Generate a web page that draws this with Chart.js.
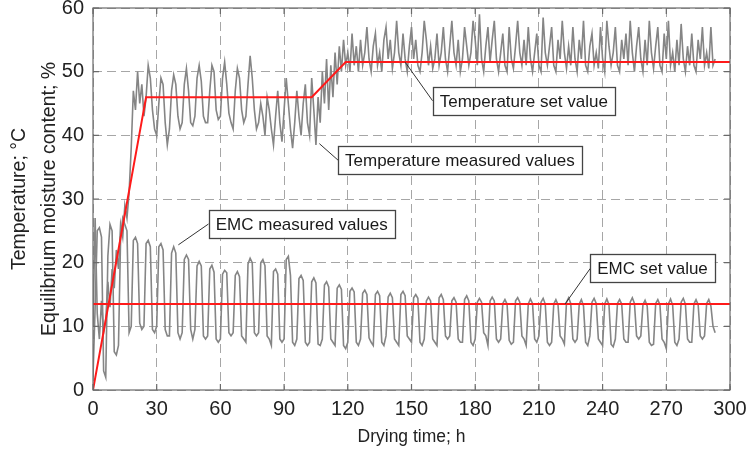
<!DOCTYPE html>
<html>
<head>
<meta charset="utf-8">
<script src="https://cdn.jsdelivr.net/npm/chart.js@4/dist/chart.umd.min.js"></script>
<style>
  html, body { margin: 0; padding: 0; background: #fff; }
  #c { display: block; }
</style>
</head>
<body>
<canvas id="c" width="748" height="456"></canvas>
<script>
// drying time, hourly readings
var hours = Array.from({length: 294}, function (_, i) { return i; });

// temperature measured values, one row = 6 h
var tempMeasured = [
  10, 27, 12, 8, 14, 9,
  11, 17, 13, 19, 16, 22,
  19, 26, 24, 29, 27, 31,
  38, 47, 44, 50, 45, 48,
  43, 46, 51, 49, 44, 41,
  40, 45, 49, 48, 42, 38.5,
  41, 47, 49.5, 48, 43, 41,
  42, 48, 50.5, 47, 42, 41.5,
  43, 49, 51, 48.5, 43, 42,
  42, 47, 51, 50, 44, 42.5,
  43, 49, 51.5, 48, 43.5, 42,
  41, 47, 50.5, 49, 44, 42,
  43, 48, 52.5, 49, 44, 41,
  42, 45, 43, 40, 46, 44,
  41, 38.5, 43, 47, 42, 39,
  44, 49, 45, 41, 38, 42,
  47, 43, 40, 45, 48, 42,
  40, 49, 44, 38.5, 46, 42,
  50, 45, 52, 44, 51, 46,
  53, 48, 54, 50, 55, 51,
  53, 50, 56, 51, 54, 50,
  55, 51, 53, 57, 52, 50,
  54, 56, 51, 53, 50, 55,
  57, 52, 55, 50.5, 53, 58,
  53, 51, 56, 52, 50, 54,
  57, 52, 55, 51, 50, 53,
  58, 55, 51, 54, 50.5, 52,
  56, 51, 53, 57, 52, 50,
  54, 58, 53, 51, 55, 50,
  52, 57, 54, 51, 53, 58,
  55, 51, 59, 52, 50, 54,
  57, 51.5, 55, 58, 52, 50,
  53, 56, 51, 50, 57, 52,
  50.5, 54, 58, 53, 51, 55,
  51, 57, 52, 50, 53, 56,
  51, 50, 58.5, 53, 51, 54,
  57, 51, 50, 55, 52, 58,
  53, 50.5, 54, 51, 57, 52,
  50, 55, 52, 58, 51, 50,
  54, 56, 51, 53, 50.5, 57,
  52, 50, 58, 54, 51, 53,
  57, 51, 50, 55, 52, 56,
  51, 58, 53, 50, 54, 57,
  52, 50, 55, 51, 58, 53,
  50.5, 54, 57, 51, 50, 56,
  52, 58, 51, 53, 50, 55,
  51, 57.5, 52, 50, 54, 51,
  56, 51, 50, 55, 52, 57,
  51, 53, 50.5, 57, 51, 52
];

// EMC measured values, one row = 6 h
var emcMeasured = [
  2, 13, 25, 25.5, 24, 3,
  2, 21, 26, 25, 6, 5.5,
  7, 24, 27, 26, 25, 9,
  10, 23.5, 24, 23, 10.5, 9.5,
  10, 23, 23.5, 22.5, 9.5, 9,
  10, 22.5, 23, 22, 9.5, 8.5,
  8.5, 21.5, 22.5, 21.5, 9, 8,
  9, 20.5, 21.2, 20.5, 9.5, 8,
  9.5, 19.5, 20.2, 19.5, 8.5, 8,
  8.5, 19, 19.6, 18.5, 8, 7.5,
  8, 18.2, 18.8, 18.4, 9, 8.5,
  9, 18, 18.6, 17.8, 8.5, 8,
  7.5, 19.8, 20.7, 20, 9, 8.5,
  9, 20, 20.5, 19.5, 8.5, 8,
  7, 18.6, 19, 18.2, 8, 7.5,
  8, 20.5, 21, 18, 7.5, 7,
  8, 17.5, 18, 17.2, 7.5, 7,
  7.5, 17, 17.6, 16.8, 7.2, 7,
  8, 16.5, 17, 16.2, 8, 7.5,
  7, 16, 16.5, 15.8, 7, 6.5,
  7.5, 15.5, 16, 15.4, 7.5, 7,
  8, 15.2, 15.7, 15, 8.2, 7.5,
  7, 15, 15.5, 14.8, 7.5, 7,
  8.5, 14.6, 15.2, 14.5, 8, 7.5,
  7, 15, 15.5, 14.8, 8.5, 8,
  7.5, 14.5, 15, 14.4, 7.5, 7,
  8, 14, 14.6, 14, 8, 7.5,
  7, 14.5, 15, 14.2, 8.5, 8,
  8.5, 14, 14.5, 13.8, 8, 7.5,
  7.5, 14.2, 14.8, 14, 7.5, 7,
  8, 13.8, 14.4, 13.8, 9, 8.5,
  7, 14, 14.6, 14, 8, 7.5,
  8, 13.6, 14.2, 13.5, 7.8, 7.2,
  7.5, 14, 14.5, 13.8, 8.5, 8,
  7, 13.5, 14.3, 13.6, 8, 7.5,
  8.5, 13.8, 14.4, 13.5, 7.5, 7,
  7.5, 13.5, 14.2, 13.4, 8.5, 8,
  7.2, 13.8, 14.5, 13.6, 8, 7.5,
  8, 13.5, 14.2, 13.2, 7.5, 7,
  8.5, 13.8, 14.4, 13.6, 8, 7.5,
  7, 13.5, 14.3, 13.4, 7.2, 6.8,
  8, 13.6, 14.2, 13.5, 8, 7.5,
  7.5, 13.8, 14.5, 13.6, 8.5, 8,
  8.5, 13.4, 14.1, 13.2, 7.5, 7,
  7.2, 13.6, 14.2, 13.4, 8, 7.5,
  6.5, 13.5, 14.3, 13.3, 7.5, 7,
  8, 13.8, 14.4, 13.5, 8, 7.5,
  7.5, 13.5, 14.2, 13.4, 8.5, 8,
  8.5, 13.6, 14.2, 13.2, 10, 9
];

// set values (break points)
var tempSetHours = [0, 25, 103, 119, 300];
var tempSet      = [0, 46, 46, 51.5, 51.5];
var emcSetHours  = [0, 300];
var emcSet       = [13.5, 13.5];

// callouts: text, box anchor (h, value), leader start (h, value)
var callouts = [
  {text: 'Temperature set value',       box: [160, 45.4],  from: [147, 51.5]},
  {text: 'Temperature measured values', box: [115.4, 36.1], from: [106.6, 38.7]},
  {text: 'EMC measured values',         box: [54.5, 26.1], from: [40.2, 22.8]},
  {text: 'EMC set value',               box: [234.2, 19.1], from: [222.3, 13.5]}
];

var FONT = '"Liberation Sans", Arial, sans-serif';

function pairs(xs, ys) {
  return xs.map(function (x, i) { return {x: x, y: ys[i]}; });
}

var framePlugin = {
  id: 'frame',
  afterDatasetsDraw: function (chart) {
    var ctx = chart.ctx, a = chart.chartArea;
    var xs = chart.scales.x, ys = chart.scales.y;
    ctx.save();
    ctx.strokeStyle = '#6a6a6a';
    ctx.lineWidth = 1.2;
    ctx.strokeRect(a.left, a.top, a.right - a.left, a.bottom - a.top);
    // inward ticks
    ctx.beginPath();
    xs.ticks.forEach(function (t) {
      var px = xs.getPixelForValue(t.value);
      ctx.moveTo(px, a.bottom); ctx.lineTo(px, a.bottom - 6);
      ctx.moveTo(px, a.top); ctx.lineTo(px, a.top + 6);
    });
    ys.ticks.forEach(function (t) {
      var py = ys.getPixelForValue(t.value);
      ctx.moveTo(a.left, py); ctx.lineTo(a.left + 6, py);
      ctx.moveTo(a.right, py); ctx.lineTo(a.right - 6, py);
    });
    ctx.stroke();

    // callout boxes
    ctx.font = '17px ' + FONT;
    ctx.textBaseline = 'middle';
    callouts.forEach(function (c) {
      var bx = xs.getPixelForValue(c.box[0]);
      var by = ys.getPixelForValue(c.box[1]);
      var fx = xs.getPixelForValue(c.from[0]);
      var fy = ys.getPixelForValue(c.from[1]);
      var w = ctx.measureText(c.text).width + 14;
      var h = 28;
      ctx.strokeStyle = '#333';
      ctx.lineWidth = 1;
      ctx.beginPath();
      ctx.moveTo(fx, fy); ctx.lineTo(bx, by);
      ctx.stroke();
      ctx.fillStyle = '#fff';
      ctx.fillRect(bx, by - h / 2, w, h);
      ctx.strokeStyle = '#444';
      ctx.lineWidth = 1.3;
      ctx.strokeRect(Math.round(bx) + 0.5, Math.round(by - h / 2) + 0.5, Math.round(w), h);
      ctx.fillStyle = '#1a1a1a';
      ctx.fillText(c.text, bx + 7, by + 1);
    });
    ctx.restore();
  }
};

var ctx = document.getElementById('c').getContext('2d');
var chart = new Chart(ctx, {
  type: 'line',
  data: {
    datasets: [
      {label: 'Temperature set value', data: pairs(tempSetHours, tempSet),
       borderColor: '#ff1a1a', borderWidth: 2, pointRadius: 0, tension: 0},
      {label: 'EMC set value', data: pairs(emcSetHours, emcSet),
       borderColor: '#ff1a1a', borderWidth: 2, pointRadius: 0, tension: 0},
      {label: 'Temperature measured values', data: pairs(hours, tempMeasured),
       borderColor: '#858585', borderWidth: 1.6, pointRadius: 0, tension: 0},
      {label: 'EMC measured values', data: pairs(hours, emcMeasured),
       borderColor: '#858585', borderWidth: 1.6, pointRadius: 0, tension: 0}
    ]
  },
  options: {
    responsive: false,
    animation: false,
    devicePixelRatio: 1,
    layout: {padding: {left: 0, right: 18, top: 8, bottom: 0}},
    plugins: {legend: {display: false}, tooltip: {enabled: false}},
    scales: {
      x: {
        type: 'linear', min: 0, max: 300,
        afterFit: function (s) {
          s.height = 66;
          s.paddingLeft = 0; s.paddingRight = 0;
        },
        ticks: {stepSize: 30, color: '#222', padding: 7, maxRotation: 0,
                font: {family: FONT, size: 20}},
        grid: {color: '#a6a6a6', lineWidth: 1, drawTicks: false},
        border: {display: false, dash: [9, 5]},
        title: {display: true, text: 'Drying time; h', color: '#222',
                padding: {top: 4, bottom: 8}, font: {family: FONT, size: 17.5}}
      },
      y: {
        min: 0, max: 60,
        afterFit: function (s) {
          s.width = 93;
          s.paddingTop = 0; s.paddingBottom = 0;
        },
        ticks: {stepSize: 10, color: '#222', padding: 9,
                font: {family: FONT, size: 20}},
        grid: {color: '#a6a6a6', lineWidth: 1, drawTicks: false},
        border: {display: false, dash: [9, 5]},
        title: {display: true,
                text: ['Temperature; \u00b0C', 'Equilibrium moisture content; %'],
                color: '#222', padding: {top: 5, bottom: 0},
                font: {family: FONT, size: 19.5, lineHeight: 1.54}}
      }
    }
  },
  plugins: [framePlugin]
});
</script>
</body>
</html>
